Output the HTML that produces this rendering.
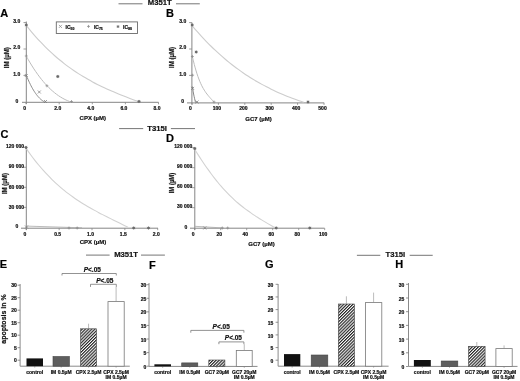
<!DOCTYPE html>
<html><head><meta charset="utf-8"><style>
html,body{margin:0;padding:0;background:#fff;width:520px;height:381px;overflow:hidden}
svg{display:block;font-family:"Liberation Sans", sans-serif;will-change:transform}
text{stroke:#111;stroke-width:0.2px}
</style></head><body>
<svg width="520" height="381" viewBox="0 0 520 381">
<defs><pattern id="hatch" patternUnits="userSpaceOnUse" width="2.2" height="2.2" patternTransform="rotate(45)"><rect width="2.2" height="2.2" fill="#fff"/><rect width="1.15" height="2.2" fill="#222"/></pattern></defs>
<text x="159.80" y="5.20" font-size="7.7" text-anchor="middle" font-weight="bold" fill="#111">M351T</text>
<line x1="118.50" y1="3.80" x2="142.50" y2="3.80" stroke="#666" stroke-width="0.9"/>
<line x1="176.00" y1="3.80" x2="199.80" y2="3.80" stroke="#666" stroke-width="0.9"/>
<text x="157.10" y="130.70" font-size="7.7" text-anchor="middle" font-weight="bold" fill="#111">T315I</text>
<line x1="119.10" y1="128.60" x2="143.20" y2="128.60" stroke="#666" stroke-width="0.9"/>
<line x1="170.90" y1="128.60" x2="195.00" y2="128.60" stroke="#666" stroke-width="0.9"/>
<text x="126.10" y="257.40" font-size="7.7" text-anchor="middle" font-weight="bold" fill="#111">M351T</text>
<line x1="86.00" y1="255.10" x2="109.60" y2="255.10" stroke="#666" stroke-width="0.9"/>
<line x1="141.00" y1="255.10" x2="164.90" y2="255.10" stroke="#666" stroke-width="0.9"/>
<text x="395.30" y="257.40" font-size="7.7" text-anchor="middle" font-weight="bold" fill="#111">T315I</text>
<line x1="356.90" y1="255.30" x2="380.30" y2="255.30" stroke="#666" stroke-width="0.9"/>
<line x1="409.70" y1="255.30" x2="432.70" y2="255.30" stroke="#666" stroke-width="0.9"/>
<text x="0.20" y="16.90" font-size="11" text-anchor="start" font-weight="bold" fill="#000">A</text>
<text x="166.00" y="17.20" font-size="11" text-anchor="start" font-weight="bold" fill="#000">B</text>
<text x="0.50" y="137.60" font-size="11" text-anchor="start" font-weight="bold" fill="#000">C</text>
<text x="166.00" y="142.10" font-size="11" text-anchor="start" font-weight="bold" fill="#000">D</text>
<text x="-0.20" y="268.30" font-size="11" text-anchor="start" font-weight="bold" fill="#000">E</text>
<text x="149.00" y="268.60" font-size="11" text-anchor="start" font-weight="bold" fill="#000">F</text>
<text x="264.90" y="268.30" font-size="11" text-anchor="start" font-weight="bold" fill="#000">G</text>
<text x="395.20" y="268.30" font-size="11" text-anchor="start" font-weight="bold" fill="#000">H</text>
<line x1="26.30" y1="21.50" x2="26.30" y2="104.00" stroke="#858585" stroke-width="1.0"/>
<line x1="23.50" y1="75.45" x2="26.30" y2="75.45" stroke="#858585" stroke-width="0.8"/>
<text x="20.20" y="75.55" font-size="5" text-anchor="end" font-weight="bold" fill="#111">1.0</text>
<line x1="23.50" y1="49.00" x2="26.30" y2="49.00" stroke="#858585" stroke-width="0.8"/>
<text x="20.20" y="49.10" font-size="5" text-anchor="end" font-weight="bold" fill="#111">2.0</text>
<line x1="23.50" y1="22.55" x2="26.30" y2="22.55" stroke="#858585" stroke-width="0.8"/>
<text x="20.20" y="22.65" font-size="5" text-anchor="end" font-weight="bold" fill="#111">3.0</text>
<text x="18.20" y="102.60" font-size="5" text-anchor="end" font-weight="bold" fill="#111">0</text>
<line x1="22.00" y1="102.30" x2="158.60" y2="102.30" stroke="#858585" stroke-width="1.0"/>
<line x1="26.10" y1="102.30" x2="26.10" y2="104.30" stroke="#858585" stroke-width="0.8"/>
<text x="24.60" y="109.70" font-size="5" text-anchor="middle" font-weight="bold" fill="#111">0</text>
<line x1="59.20" y1="102.30" x2="59.20" y2="104.30" stroke="#858585" stroke-width="0.8"/>
<text x="57.70" y="109.70" font-size="5" text-anchor="middle" font-weight="bold" fill="#111">2.0</text>
<line x1="92.30" y1="102.30" x2="92.30" y2="104.30" stroke="#858585" stroke-width="0.8"/>
<text x="90.80" y="109.70" font-size="5" text-anchor="middle" font-weight="bold" fill="#111">4.0</text>
<line x1="125.40" y1="102.30" x2="125.40" y2="104.30" stroke="#858585" stroke-width="0.8"/>
<text x="123.90" y="109.70" font-size="5" text-anchor="middle" font-weight="bold" fill="#111">6.0</text>
<line x1="158.50" y1="102.30" x2="158.50" y2="104.30" stroke="#858585" stroke-width="0.8"/>
<text x="157.00" y="109.70" font-size="5" text-anchor="middle" font-weight="bold" fill="#111">8.0</text>
<text x="92.80" y="119.90" font-size="6" text-anchor="middle" font-weight="bold" fill="#111">CPX (µM)</text>
<text x="8.80" y="57.80" font-size="6.8" text-anchor="middle" font-weight="bold" fill="#111" transform="rotate(-90 8.8 57.8)" textLength="21" lengthAdjust="spacingAndGlyphs">IM (µM)</text>
<path d="M26.30,25.50 C27.09,26.47 29.46,29.43 31.04,31.32 C32.62,33.20 34.19,35.03 35.77,36.81 C37.35,38.59 38.93,40.32 40.51,41.99 C42.09,43.66 43.67,45.28 45.25,46.86 C46.83,48.44 48.41,49.96 49.99,51.44 C51.57,52.92 53.14,54.35 54.72,55.74 C56.30,57.13 57.88,58.47 59.46,59.78 C61.04,61.09 62.62,62.35 64.20,63.58 C65.78,64.81 67.36,65.99 68.94,67.14 C70.52,68.29 72.09,69.41 73.67,70.49 C75.25,71.57 76.83,72.61 78.41,73.62 C79.99,74.63 81.57,75.62 83.15,76.57 C84.73,77.52 86.31,78.44 87.89,79.34 C89.47,80.24 91.04,81.11 92.62,81.95 C94.20,82.80 95.78,83.61 97.36,84.41 C98.94,85.21 100.52,85.98 102.10,86.74 C103.68,87.49 105.26,88.22 106.84,88.94 C108.42,89.66 109.99,90.36 111.57,91.04 C113.15,91.73 114.73,92.39 116.31,93.05 C117.89,93.71 119.47,94.35 121.05,94.98 C122.63,95.61 124.21,96.24 125.79,96.85 C127.37,97.46 128.95,98.06 130.53,98.66 C132.11,99.26 133.68,99.85 135.26,100.44 C136.84,101.03 139.21,101.91 140.00,102.20" fill="none" stroke="#cdcdcd" stroke-width="1.1"/>
<path d="M26.40,56.30 C26.71,56.86 27.65,58.56 28.28,59.66 C28.91,60.76 29.54,61.83 30.17,62.88 C30.80,63.93 31.42,64.95 32.05,65.96 C32.68,66.96 33.30,67.95 33.93,68.91 C34.56,69.87 35.19,70.80 35.82,71.71 C36.45,72.62 37.07,73.52 37.70,74.39 C38.33,75.26 38.95,76.10 39.58,76.93 C40.21,77.76 40.84,78.57 41.47,79.35 C42.10,80.13 42.72,80.89 43.35,81.63 C43.98,82.37 44.60,83.10 45.23,83.80 C45.86,84.50 46.49,85.18 47.12,85.84 C47.75,86.50 48.37,87.14 49.00,87.76 C49.63,88.38 50.25,88.98 50.88,89.56 C51.51,90.14 52.14,90.70 52.77,91.24 C53.40,91.78 54.02,92.31 54.65,92.81 C55.28,93.31 55.90,93.80 56.53,94.27 C57.16,94.74 57.79,95.20 58.42,95.63 C59.05,96.06 59.67,96.47 60.30,96.87 C60.93,97.27 61.55,97.65 62.18,98.01 C62.81,98.37 63.44,98.71 64.07,99.04 C64.70,99.37 65.32,99.69 65.95,99.98 C66.58,100.28 67.20,100.55 67.83,100.81 C68.46,101.07 69.09,101.32 69.72,101.55 C70.35,101.78 71.29,102.09 71.60,102.20" fill="none" stroke="#bcbcbc" stroke-width="1.0"/>
<path d="M26.40,75.50 C26.53,75.82 26.92,76.79 27.18,77.42 C27.44,78.05 27.70,78.66 27.96,79.26 C28.22,79.86 28.48,80.44 28.74,81.02 C29.00,81.59 29.26,82.16 29.52,82.71 C29.78,83.26 30.04,83.79 30.30,84.32 C30.56,84.84 30.81,85.36 31.07,85.86 C31.33,86.36 31.59,86.85 31.85,87.33 C32.11,87.81 32.37,88.27 32.63,88.72 C32.89,89.17 33.15,89.62 33.41,90.05 C33.67,90.48 33.93,90.89 34.19,91.30 C34.45,91.71 34.71,92.10 34.97,92.49 C35.23,92.88 35.49,93.25 35.75,93.61 C36.01,93.97 36.27,94.32 36.53,94.66 C36.79,95.00 37.05,95.33 37.31,95.65 C37.57,95.97 37.83,96.28 38.09,96.58 C38.35,96.88 38.61,97.17 38.87,97.45 C39.13,97.73 39.39,97.99 39.65,98.25 C39.91,98.51 40.16,98.76 40.42,99.00 C40.68,99.24 40.94,99.47 41.20,99.69 C41.46,99.91 41.72,100.12 41.98,100.32 C42.24,100.52 42.50,100.71 42.76,100.89 C43.02,101.07 43.28,101.25 43.54,101.42 C43.80,101.59 44.06,101.73 44.32,101.88 C44.58,102.03 44.97,102.23 45.10,102.30" fill="none" stroke="#808080" stroke-width="0.9"/>
<line x1="37.80" y1="90.50" x2="40.80" y2="93.50" stroke="#777" stroke-width="0.7"/>
<line x1="37.80" y1="93.50" x2="40.80" y2="90.50" stroke="#777" stroke-width="0.7"/>
<line x1="45.40" y1="85.80" x2="48.40" y2="85.80" stroke="#888" stroke-width="0.7"/>
<line x1="46.90" y1="84.30" x2="46.90" y2="87.30" stroke="#888" stroke-width="0.7"/>
<circle cx="57.80" cy="76.50" r="1.20" fill="#6a6a6a"/>
<line x1="56.20" y1="76.50" x2="59.40" y2="76.50" stroke="#6a6a6a" stroke-width="0.6"/>
<line x1="57.80" y1="74.90" x2="57.80" y2="78.10" stroke="#6a6a6a" stroke-width="0.6"/>
<line x1="56.68" y1="75.38" x2="58.92" y2="77.62" stroke="#6a6a6a" stroke-width="0.6"/>
<line x1="56.68" y1="77.62" x2="58.92" y2="75.38" stroke="#6a6a6a" stroke-width="0.6"/>
<line x1="24.80" y1="74.00" x2="27.80" y2="77.00" stroke="#777" stroke-width="0.7"/>
<line x1="24.80" y1="77.00" x2="27.80" y2="74.00" stroke="#777" stroke-width="0.7"/>
<line x1="24.80" y1="56.00" x2="27.80" y2="56.00" stroke="#888" stroke-width="0.7"/>
<line x1="26.30" y1="54.50" x2="26.30" y2="57.50" stroke="#888" stroke-width="0.7"/>
<circle cx="26.30" cy="25.00" r="1.20" fill="#6a6a6a"/>
<line x1="24.70" y1="25.00" x2="27.90" y2="25.00" stroke="#6a6a6a" stroke-width="0.6"/>
<line x1="26.30" y1="23.40" x2="26.30" y2="26.60" stroke="#6a6a6a" stroke-width="0.6"/>
<line x1="25.18" y1="23.88" x2="27.42" y2="26.12" stroke="#6a6a6a" stroke-width="0.6"/>
<line x1="25.18" y1="26.12" x2="27.42" y2="23.88" stroke="#6a6a6a" stroke-width="0.6"/>
<line x1="44.00" y1="100.00" x2="47.00" y2="103.00" stroke="#777" stroke-width="0.7"/>
<line x1="44.00" y1="103.00" x2="47.00" y2="100.00" stroke="#777" stroke-width="0.7"/>
<line x1="70.00" y1="101.50" x2="73.00" y2="101.50" stroke="#888" stroke-width="0.7"/>
<line x1="71.50" y1="100.00" x2="71.50" y2="103.00" stroke="#888" stroke-width="0.7"/>
<circle cx="139.00" cy="101.50" r="1.20" fill="#6a6a6a"/>
<line x1="137.40" y1="101.50" x2="140.60" y2="101.50" stroke="#6a6a6a" stroke-width="0.6"/>
<line x1="139.00" y1="99.90" x2="139.00" y2="103.10" stroke="#6a6a6a" stroke-width="0.6"/>
<line x1="137.88" y1="100.38" x2="140.12" y2="102.62" stroke="#6a6a6a" stroke-width="0.6"/>
<line x1="137.88" y1="102.62" x2="140.12" y2="100.38" stroke="#6a6a6a" stroke-width="0.6"/>
<rect x="56.30" y="21.90" width="81.20" height="11.60" fill="none" stroke="#6a6a6a" stroke-width="0.9"/>
<line x1="58.90" y1="24.90" x2="61.90" y2="27.90" stroke="#888" stroke-width="0.75"/>
<line x1="58.90" y1="27.90" x2="61.90" y2="24.90" stroke="#888" stroke-width="0.75"/>
<text x="65.60" y="28.80" font-size="5" font-weight="bold" fill="#111">IC<tspan font-size="3.5" dy="1.2">50</tspan></text>
<line x1="87.00" y1="26.40" x2="90.00" y2="26.40" stroke="#888" stroke-width="0.75"/>
<line x1="88.50" y1="24.90" x2="88.50" y2="27.90" stroke="#888" stroke-width="0.75"/>
<text x="93.90" y="28.80" font-size="5" font-weight="bold" fill="#111">IC<tspan font-size="3.5" dy="1.2">75</tspan></text>
<circle cx="118.00" cy="26.60" r="1.05" fill="#777"/>
<line x1="116.60" y1="26.60" x2="119.40" y2="26.60" stroke="#777" stroke-width="0.6"/>
<line x1="118.00" y1="25.20" x2="118.00" y2="28.00" stroke="#777" stroke-width="0.6"/>
<line x1="117.02" y1="25.62" x2="118.98" y2="27.58" stroke="#777" stroke-width="0.6"/>
<line x1="117.02" y1="27.58" x2="118.98" y2="25.62" stroke="#777" stroke-width="0.6"/>
<text x="123.00" y="28.80" font-size="5" font-weight="bold" fill="#111">IC<tspan font-size="3.5" dy="1.2">90</tspan></text>
<line x1="191.90" y1="22.50" x2="191.90" y2="104.50" stroke="#858585" stroke-width="1.0"/>
<line x1="189.10" y1="75.40" x2="191.90" y2="75.40" stroke="#858585" stroke-width="0.8"/>
<text x="186.30" y="75.50" font-size="5" text-anchor="end" font-weight="bold" fill="#111">1.0</text>
<line x1="189.10" y1="49.00" x2="191.90" y2="49.00" stroke="#858585" stroke-width="0.8"/>
<text x="186.30" y="49.10" font-size="5" text-anchor="end" font-weight="bold" fill="#111">2.0</text>
<line x1="189.10" y1="22.60" x2="191.90" y2="22.60" stroke="#858585" stroke-width="0.8"/>
<text x="186.30" y="22.70" font-size="5" text-anchor="end" font-weight="bold" fill="#111">3.0</text>
<text x="184.00" y="102.90" font-size="5" text-anchor="end" font-weight="bold" fill="#111">0</text>
<line x1="187.00" y1="102.90" x2="324.20" y2="102.90" stroke="#858585" stroke-width="1.0"/>
<line x1="192.00" y1="102.90" x2="192.00" y2="104.90" stroke="#858585" stroke-width="0.8"/>
<text x="190.50" y="110.20" font-size="5" text-anchor="middle" font-weight="bold" fill="#111">0</text>
<line x1="218.40" y1="102.90" x2="218.40" y2="104.90" stroke="#858585" stroke-width="0.8"/>
<text x="216.90" y="110.20" font-size="5" text-anchor="middle" font-weight="bold" fill="#111">100</text>
<line x1="244.80" y1="102.90" x2="244.80" y2="104.90" stroke="#858585" stroke-width="0.8"/>
<text x="243.30" y="110.20" font-size="5" text-anchor="middle" font-weight="bold" fill="#111">200</text>
<line x1="271.20" y1="102.90" x2="271.20" y2="104.90" stroke="#858585" stroke-width="0.8"/>
<text x="269.70" y="110.20" font-size="5" text-anchor="middle" font-weight="bold" fill="#111">300</text>
<line x1="297.60" y1="102.90" x2="297.60" y2="104.90" stroke="#858585" stroke-width="0.8"/>
<text x="296.10" y="110.20" font-size="5" text-anchor="middle" font-weight="bold" fill="#111">400</text>
<line x1="324.00" y1="102.90" x2="324.00" y2="104.90" stroke="#858585" stroke-width="0.8"/>
<text x="322.50" y="110.20" font-size="5" text-anchor="middle" font-weight="bold" fill="#111">500</text>
<text x="258.60" y="120.80" font-size="6" text-anchor="middle" font-weight="bold" fill="#111">GC7 (µM)</text>
<text x="173.80" y="57.40" font-size="6.8" text-anchor="middle" font-weight="bold" fill="#111" transform="rotate(-90 173.8 57.4)" textLength="21" lengthAdjust="spacingAndGlyphs">IM (µM)</text>
<path d="M192.20,25.80 C192.97,26.70 195.30,29.45 196.85,31.21 C198.40,32.97 199.94,34.69 201.49,36.37 C203.04,38.05 204.59,39.70 206.14,41.30 C207.69,42.90 209.23,44.47 210.78,45.99 C212.33,47.52 213.88,49.00 215.43,50.45 C216.98,51.90 218.52,53.32 220.07,54.70 C221.62,56.08 223.17,57.43 224.72,58.74 C226.27,60.05 227.82,61.33 229.37,62.58 C230.92,63.83 232.46,65.04 234.01,66.22 C235.56,67.40 237.11,68.55 238.66,69.67 C240.21,70.79 241.75,71.88 243.30,72.94 C244.85,74.00 246.40,75.04 247.95,76.04 C249.50,77.05 251.05,78.02 252.60,78.97 C254.15,79.92 255.69,80.84 257.24,81.74 C258.79,82.64 260.34,83.51 261.89,84.36 C263.44,85.21 264.98,86.04 266.53,86.84 C268.08,87.64 269.63,88.41 271.18,89.17 C272.73,89.93 274.27,90.66 275.82,91.38 C277.37,92.09 278.92,92.78 280.47,93.46 C282.02,94.13 283.57,94.79 285.12,95.43 C286.67,96.07 288.21,96.69 289.76,97.29 C291.31,97.89 292.86,98.48 294.41,99.05 C295.96,99.62 297.50,100.17 299.05,100.71 C300.60,101.25 302.93,102.03 303.70,102.29" fill="none" stroke="#cdcdcd" stroke-width="1.1"/>
<path d="M192.50,57.00 C192.65,57.65 193.10,59.63 193.40,60.88 C193.70,62.13 194.01,63.34 194.31,64.50 C194.61,65.66 194.91,66.77 195.21,67.85 C195.51,68.93 195.82,69.96 196.12,70.96 C196.42,71.96 196.72,72.92 197.02,73.84 C197.32,74.76 197.63,75.65 197.93,76.50 C198.23,77.35 198.53,78.17 198.83,78.96 C199.13,79.75 199.43,80.50 199.73,81.22 C200.03,81.94 200.34,82.64 200.64,83.31 C200.94,83.98 201.24,84.62 201.54,85.23 C201.84,85.84 202.15,86.43 202.45,87.00 C202.75,87.57 203.05,88.11 203.35,88.63 C203.65,89.15 203.95,89.66 204.25,90.14 C204.55,90.62 204.86,91.08 205.16,91.53 C205.46,91.98 205.76,92.41 206.06,92.83 C206.36,93.25 206.67,93.66 206.97,94.05 C207.27,94.44 207.57,94.82 207.87,95.19 C208.17,95.56 208.47,95.92 208.77,96.27 C209.07,96.62 209.38,96.97 209.68,97.31 C209.98,97.65 210.28,97.99 210.58,98.32 C210.88,98.65 211.19,98.98 211.49,99.31 C211.79,99.64 212.09,99.96 212.39,100.29 C212.69,100.62 213.00,100.96 213.30,101.29 C213.60,101.62 214.05,102.13 214.20,102.30" fill="none" stroke="#bcbcbc" stroke-width="1.0"/>
<path d="M192.40,86.50 C192.60,87.75 193.08,91.33 193.60,94.00 C194.12,96.67 195.18,101.08 195.50,102.50" fill="none" stroke="#7a7a7a" stroke-width="0.9"/>
<circle cx="196.20" cy="52.00" r="1.20" fill="#6a6a6a"/>
<line x1="194.60" y1="52.00" x2="197.80" y2="52.00" stroke="#6a6a6a" stroke-width="0.6"/>
<line x1="196.20" y1="50.40" x2="196.20" y2="53.60" stroke="#6a6a6a" stroke-width="0.6"/>
<line x1="195.08" y1="50.88" x2="197.32" y2="53.12" stroke="#6a6a6a" stroke-width="0.6"/>
<line x1="195.08" y1="53.12" x2="197.32" y2="50.88" stroke="#6a6a6a" stroke-width="0.6"/>
<line x1="190.90" y1="56.50" x2="193.90" y2="56.50" stroke="#888" stroke-width="0.7"/>
<line x1="192.40" y1="55.00" x2="192.40" y2="58.00" stroke="#888" stroke-width="0.7"/>
<line x1="191.10" y1="75.20" x2="194.10" y2="75.20" stroke="#888" stroke-width="0.7"/>
<line x1="192.60" y1="73.70" x2="192.60" y2="76.70" stroke="#888" stroke-width="0.7"/>
<line x1="191.10" y1="86.90" x2="194.10" y2="89.90" stroke="#777" stroke-width="0.7"/>
<line x1="191.10" y1="89.90" x2="194.10" y2="86.90" stroke="#777" stroke-width="0.7"/>
<circle cx="192.20" cy="25.00" r="1.20" fill="#6a6a6a"/>
<line x1="190.60" y1="25.00" x2="193.80" y2="25.00" stroke="#6a6a6a" stroke-width="0.6"/>
<line x1="192.20" y1="23.40" x2="192.20" y2="26.60" stroke="#6a6a6a" stroke-width="0.6"/>
<line x1="191.08" y1="23.88" x2="193.32" y2="26.12" stroke="#6a6a6a" stroke-width="0.6"/>
<line x1="191.08" y1="26.12" x2="193.32" y2="23.88" stroke="#6a6a6a" stroke-width="0.6"/>
<line x1="195.50" y1="100.50" x2="198.50" y2="103.50" stroke="#777" stroke-width="0.7"/>
<line x1="195.50" y1="103.50" x2="198.50" y2="100.50" stroke="#777" stroke-width="0.7"/>
<line x1="212.50" y1="102.00" x2="215.50" y2="102.00" stroke="#888" stroke-width="0.7"/>
<line x1="214.00" y1="100.50" x2="214.00" y2="103.50" stroke="#888" stroke-width="0.7"/>
<circle cx="308.00" cy="102.00" r="1.20" fill="#6a6a6a"/>
<line x1="306.40" y1="102.00" x2="309.60" y2="102.00" stroke="#6a6a6a" stroke-width="0.6"/>
<line x1="308.00" y1="100.40" x2="308.00" y2="103.60" stroke="#6a6a6a" stroke-width="0.6"/>
<line x1="306.88" y1="100.88" x2="309.12" y2="103.12" stroke="#6a6a6a" stroke-width="0.6"/>
<line x1="306.88" y1="103.12" x2="309.12" y2="100.88" stroke="#6a6a6a" stroke-width="0.6"/>
<line x1="26.30" y1="146.90" x2="26.30" y2="230.00" stroke="#858585" stroke-width="1.0"/>
<line x1="23.50" y1="207.35" x2="26.30" y2="207.35" stroke="#858585" stroke-width="0.8"/>
<text x="24.00" y="208.55" font-size="5" text-anchor="end" font-weight="bold" fill="#111">30 000</text>
<line x1="23.50" y1="187.30" x2="26.30" y2="187.30" stroke="#858585" stroke-width="0.8"/>
<text x="24.00" y="188.50" font-size="5" text-anchor="end" font-weight="bold" fill="#111">60 000</text>
<line x1="23.50" y1="167.25" x2="26.30" y2="167.25" stroke="#858585" stroke-width="0.8"/>
<text x="24.00" y="168.45" font-size="5" text-anchor="end" font-weight="bold" fill="#111">90 000</text>
<line x1="23.50" y1="147.20" x2="26.30" y2="147.20" stroke="#858585" stroke-width="0.8"/>
<text x="24.00" y="148.40" font-size="5" text-anchor="end" font-weight="bold" fill="#111">120 000</text>
<text x="18.40" y="228.20" font-size="5" text-anchor="end" font-weight="bold" fill="#111">0</text>
<line x1="21.00" y1="228.20" x2="158.00" y2="228.20" stroke="#858585" stroke-width="1.0"/>
<line x1="26.30" y1="228.20" x2="26.30" y2="230.20" stroke="#858585" stroke-width="0.8"/>
<text x="24.80" y="235.60" font-size="5" text-anchor="middle" font-weight="bold" fill="#111">0</text>
<line x1="59.15" y1="228.20" x2="59.15" y2="230.20" stroke="#858585" stroke-width="0.8"/>
<text x="57.65" y="235.60" font-size="5" text-anchor="middle" font-weight="bold" fill="#111">0.5</text>
<line x1="92.00" y1="228.20" x2="92.00" y2="230.20" stroke="#858585" stroke-width="0.8"/>
<text x="90.50" y="235.60" font-size="5" text-anchor="middle" font-weight="bold" fill="#111">1.0</text>
<line x1="124.85" y1="228.20" x2="124.85" y2="230.20" stroke="#858585" stroke-width="0.8"/>
<text x="123.35" y="235.60" font-size="5" text-anchor="middle" font-weight="bold" fill="#111">1.5</text>
<line x1="157.70" y1="228.20" x2="157.70" y2="230.20" stroke="#858585" stroke-width="0.8"/>
<text x="156.20" y="235.60" font-size="5" text-anchor="middle" font-weight="bold" fill="#111">2.0</text>
<text x="93.00" y="244.40" font-size="6" text-anchor="middle" font-weight="bold" fill="#111">CPX (µM)</text>
<text x="7.00" y="183.60" font-size="6.6" text-anchor="middle" font-weight="bold" fill="#111" transform="rotate(-90 7.0 183.6)" textLength="21" lengthAdjust="spacingAndGlyphs">IM (µM)</text>
<path d="M26.40,148.79 C27.10,149.78 29.22,152.80 30.63,154.72 C32.04,156.64 33.46,158.49 34.87,160.29 C36.28,162.09 37.69,163.82 39.10,165.51 C40.51,167.19 41.92,168.82 43.33,170.40 C44.74,171.98 46.16,173.51 47.57,174.99 C48.98,176.47 50.39,177.90 51.80,179.28 C53.21,180.66 54.62,182.00 56.03,183.30 C57.44,184.60 58.86,185.85 60.27,187.06 C61.68,188.27 63.09,189.44 64.50,190.58 C65.91,191.72 67.32,192.82 68.73,193.89 C70.14,194.96 71.56,195.99 72.97,196.99 C74.38,198.00 75.79,198.97 77.20,199.92 C78.61,200.87 80.02,201.78 81.43,202.67 C82.84,203.56 84.26,204.43 85.67,205.28 C87.08,206.13 88.49,206.95 89.90,207.76 C91.31,208.57 92.72,209.35 94.13,210.13 C95.54,210.91 96.96,211.66 98.37,212.41 C99.78,213.16 101.19,213.90 102.60,214.62 C104.01,215.34 105.42,216.05 106.83,216.76 C108.24,217.47 109.66,218.17 111.07,218.87 C112.48,219.57 113.89,220.26 115.30,220.96 C116.71,221.66 118.12,222.35 119.53,223.05 C120.94,223.75 122.36,224.45 123.77,225.16 C125.18,225.87 127.30,226.94 128.00,227.29" fill="none" stroke="#d2d2d2" stroke-width="1.1"/>
<line x1="26.30" y1="226.10" x2="82.00" y2="227.80" stroke="#a8a8a8" stroke-width="0.8"/>
<circle cx="26.10" cy="147.50" r="1.20" fill="#6a6a6a"/>
<line x1="24.50" y1="147.50" x2="27.70" y2="147.50" stroke="#6a6a6a" stroke-width="0.6"/>
<line x1="26.10" y1="145.90" x2="26.10" y2="149.10" stroke="#6a6a6a" stroke-width="0.6"/>
<line x1="24.98" y1="146.38" x2="27.22" y2="148.62" stroke="#6a6a6a" stroke-width="0.6"/>
<line x1="24.98" y1="148.62" x2="27.22" y2="146.38" stroke="#6a6a6a" stroke-width="0.6"/>
<circle cx="133.70" cy="228.00" r="1.20" fill="#6a6a6a"/>
<line x1="132.10" y1="228.00" x2="135.30" y2="228.00" stroke="#6a6a6a" stroke-width="0.6"/>
<line x1="133.70" y1="226.40" x2="133.70" y2="229.60" stroke="#6a6a6a" stroke-width="0.6"/>
<line x1="132.58" y1="226.88" x2="134.82" y2="229.12" stroke="#6a6a6a" stroke-width="0.6"/>
<line x1="132.58" y1="229.12" x2="134.82" y2="226.88" stroke="#6a6a6a" stroke-width="0.6"/>
<circle cx="148.50" cy="228.00" r="1.20" fill="#6a6a6a"/>
<line x1="146.90" y1="228.00" x2="150.10" y2="228.00" stroke="#6a6a6a" stroke-width="0.6"/>
<line x1="148.50" y1="226.40" x2="148.50" y2="229.60" stroke="#6a6a6a" stroke-width="0.6"/>
<line x1="147.38" y1="226.88" x2="149.62" y2="229.12" stroke="#6a6a6a" stroke-width="0.6"/>
<line x1="147.38" y1="229.12" x2="149.62" y2="226.88" stroke="#6a6a6a" stroke-width="0.6"/>
<line x1="67.50" y1="228.00" x2="70.50" y2="228.00" stroke="#888" stroke-width="0.7"/>
<line x1="69.00" y1="226.50" x2="69.00" y2="229.50" stroke="#888" stroke-width="0.7"/>
<line x1="75.70" y1="228.00" x2="78.70" y2="228.00" stroke="#888" stroke-width="0.7"/>
<line x1="77.20" y1="226.50" x2="77.20" y2="229.50" stroke="#888" stroke-width="0.7"/>
<line x1="25.00" y1="225.50" x2="28.00" y2="228.50" stroke="#777" stroke-width="0.7"/>
<line x1="25.00" y1="228.50" x2="28.00" y2="225.50" stroke="#777" stroke-width="0.7"/>
<line x1="194.80" y1="148.00" x2="194.80" y2="230.00" stroke="#858585" stroke-width="1.0"/>
<line x1="192.00" y1="207.70" x2="194.80" y2="207.70" stroke="#858585" stroke-width="0.8"/>
<text x="192.30" y="208.00" font-size="5" text-anchor="end" font-weight="bold" fill="#111">30 000</text>
<line x1="192.00" y1="187.70" x2="194.80" y2="187.70" stroke="#858585" stroke-width="0.8"/>
<text x="192.30" y="188.00" font-size="5" text-anchor="end" font-weight="bold" fill="#111">60 000</text>
<line x1="192.00" y1="167.70" x2="194.80" y2="167.70" stroke="#858585" stroke-width="0.8"/>
<text x="192.30" y="168.00" font-size="5" text-anchor="end" font-weight="bold" fill="#111">90 000</text>
<line x1="192.00" y1="147.70" x2="194.80" y2="147.70" stroke="#858585" stroke-width="0.8"/>
<text x="192.30" y="148.00" font-size="5" text-anchor="end" font-weight="bold" fill="#111">120 000</text>
<text x="187.30" y="228.80" font-size="5" text-anchor="end" font-weight="bold" fill="#111">0</text>
<line x1="190.00" y1="228.20" x2="324.60" y2="228.20" stroke="#858585" stroke-width="1.0"/>
<line x1="194.70" y1="228.20" x2="194.70" y2="230.20" stroke="#858585" stroke-width="0.8"/>
<text x="193.20" y="235.80" font-size="5" text-anchor="middle" font-weight="bold" fill="#111">0</text>
<line x1="220.70" y1="228.20" x2="220.70" y2="230.20" stroke="#858585" stroke-width="0.8"/>
<text x="219.20" y="235.80" font-size="5" text-anchor="middle" font-weight="bold" fill="#111">20</text>
<line x1="246.70" y1="228.20" x2="246.70" y2="230.20" stroke="#858585" stroke-width="0.8"/>
<text x="245.20" y="235.80" font-size="5" text-anchor="middle" font-weight="bold" fill="#111">40</text>
<line x1="272.70" y1="228.20" x2="272.70" y2="230.20" stroke="#858585" stroke-width="0.8"/>
<text x="271.20" y="235.80" font-size="5" text-anchor="middle" font-weight="bold" fill="#111">60</text>
<line x1="298.70" y1="228.20" x2="298.70" y2="230.20" stroke="#858585" stroke-width="0.8"/>
<text x="297.20" y="235.80" font-size="5" text-anchor="middle" font-weight="bold" fill="#111">80</text>
<line x1="324.70" y1="228.20" x2="324.70" y2="230.20" stroke="#858585" stroke-width="0.8"/>
<text x="323.20" y="235.80" font-size="5" text-anchor="middle" font-weight="bold" fill="#111">100</text>
<text x="261.50" y="245.50" font-size="6" text-anchor="middle" font-weight="bold" fill="#111">GC7 (µM)</text>
<text x="174.10" y="183.00" font-size="6.6" text-anchor="middle" font-weight="bold" fill="#111" transform="rotate(-90 174.1 183)" textLength="20.6" lengthAdjust="spacingAndGlyphs">IM (µM)</text>
<path d="M194.70,149.27 C195.25,150.16 196.91,152.85 198.02,154.59 C199.13,156.33 200.24,158.05 201.35,159.73 C202.46,161.41 203.56,163.07 204.67,164.69 C205.78,166.31 206.89,167.89 208.00,169.44 C209.11,170.99 210.21,172.51 211.32,174.00 C212.43,175.49 213.54,176.93 214.65,178.35 C215.76,179.77 216.86,181.15 217.97,182.50 C219.08,183.85 220.19,185.16 221.30,186.44 C222.41,187.72 223.51,188.95 224.62,190.15 C225.73,191.35 226.84,192.52 227.95,193.65 C229.06,194.78 230.17,195.88 231.28,196.94 C232.39,198.00 233.49,199.04 234.60,200.04 C235.71,201.04 236.82,202.01 237.93,202.96 C239.04,203.91 240.14,204.83 241.25,205.72 C242.36,206.61 243.46,207.47 244.57,208.32 C245.68,209.17 246.79,210.00 247.90,210.80 C249.01,211.61 250.11,212.38 251.22,213.15 C252.33,213.92 253.44,214.67 254.55,215.40 C255.66,216.13 256.77,216.85 257.88,217.55 C258.99,218.25 260.09,218.95 261.20,219.63 C262.31,220.31 263.41,220.98 264.52,221.65 C265.63,222.32 266.74,222.98 267.85,223.63 C268.96,224.28 270.07,224.93 271.18,225.57 C272.29,226.21 273.95,227.17 274.50,227.49" fill="none" stroke="#d2d2d2" stroke-width="1.1"/>
<line x1="194.80" y1="226.30" x2="222.00" y2="227.90" stroke="#a8a8a8" stroke-width="0.8"/>
<circle cx="194.80" cy="148.50" r="1.20" fill="#6a6a6a"/>
<line x1="193.20" y1="148.50" x2="196.40" y2="148.50" stroke="#6a6a6a" stroke-width="0.6"/>
<line x1="194.80" y1="146.90" x2="194.80" y2="150.10" stroke="#6a6a6a" stroke-width="0.6"/>
<line x1="193.68" y1="147.38" x2="195.92" y2="149.62" stroke="#6a6a6a" stroke-width="0.6"/>
<line x1="193.68" y1="149.62" x2="195.92" y2="147.38" stroke="#6a6a6a" stroke-width="0.6"/>
<line x1="203.30" y1="226.50" x2="206.30" y2="229.50" stroke="#777" stroke-width="0.7"/>
<line x1="203.30" y1="229.50" x2="206.30" y2="226.50" stroke="#777" stroke-width="0.7"/>
<line x1="220.80" y1="228.00" x2="223.80" y2="228.00" stroke="#888" stroke-width="0.7"/>
<line x1="222.30" y1="226.50" x2="222.30" y2="229.50" stroke="#888" stroke-width="0.7"/>
<line x1="226.20" y1="228.00" x2="229.20" y2="228.00" stroke="#888" stroke-width="0.7"/>
<line x1="227.70" y1="226.50" x2="227.70" y2="229.50" stroke="#888" stroke-width="0.7"/>
<circle cx="276.20" cy="228.00" r="1.20" fill="#6a6a6a"/>
<line x1="274.60" y1="228.00" x2="277.80" y2="228.00" stroke="#6a6a6a" stroke-width="0.6"/>
<line x1="276.20" y1="226.40" x2="276.20" y2="229.60" stroke="#6a6a6a" stroke-width="0.6"/>
<line x1="275.08" y1="226.88" x2="277.32" y2="229.12" stroke="#6a6a6a" stroke-width="0.6"/>
<line x1="275.08" y1="229.12" x2="277.32" y2="226.88" stroke="#6a6a6a" stroke-width="0.6"/>
<circle cx="309.80" cy="228.00" r="1.20" fill="#6a6a6a"/>
<line x1="308.20" y1="228.00" x2="311.40" y2="228.00" stroke="#6a6a6a" stroke-width="0.6"/>
<line x1="309.80" y1="226.40" x2="309.80" y2="229.60" stroke="#6a6a6a" stroke-width="0.6"/>
<line x1="308.68" y1="226.88" x2="310.92" y2="229.12" stroke="#6a6a6a" stroke-width="0.6"/>
<line x1="308.68" y1="229.12" x2="310.92" y2="226.88" stroke="#6a6a6a" stroke-width="0.6"/>
<line x1="20.10" y1="284.00" x2="20.10" y2="366.20" stroke="#8a8a8a" stroke-width="1.0"/>
<line x1="17.60" y1="360.20" x2="20.10" y2="360.20" stroke="#777" stroke-width="0.8"/>
<text x="16.90" y="362.00" font-size="5" text-anchor="end" font-weight="bold" fill="#111">0</text>
<line x1="17.60" y1="347.70" x2="20.10" y2="347.70" stroke="#777" stroke-width="0.8"/>
<text x="16.90" y="349.50" font-size="5" text-anchor="end" font-weight="bold" fill="#111">5</text>
<line x1="17.60" y1="335.20" x2="20.10" y2="335.20" stroke="#777" stroke-width="0.8"/>
<text x="16.90" y="337.00" font-size="5" text-anchor="end" font-weight="bold" fill="#111">10</text>
<line x1="17.60" y1="322.70" x2="20.10" y2="322.70" stroke="#777" stroke-width="0.8"/>
<text x="16.90" y="324.50" font-size="5" text-anchor="end" font-weight="bold" fill="#111">15</text>
<line x1="17.60" y1="310.20" x2="20.10" y2="310.20" stroke="#777" stroke-width="0.8"/>
<text x="16.90" y="312.00" font-size="5" text-anchor="end" font-weight="bold" fill="#111">20</text>
<line x1="17.60" y1="297.70" x2="20.10" y2="297.70" stroke="#777" stroke-width="0.8"/>
<text x="16.90" y="299.50" font-size="5" text-anchor="end" font-weight="bold" fill="#111">25</text>
<line x1="17.60" y1="285.20" x2="20.10" y2="285.20" stroke="#777" stroke-width="0.8"/>
<text x="16.90" y="287.00" font-size="5" text-anchor="end" font-weight="bold" fill="#111">30</text>
<line x1="20.10" y1="366.20" x2="129.80" y2="366.20" stroke="#8a8a8a" stroke-width="1.0"/>
<line x1="34.75" y1="366.20" x2="34.75" y2="367.50" stroke="#777" stroke-width="0.7"/>
<rect x="26.50" y="358.40" width="16.50" height="7.80" fill="#111" stroke="none" stroke-width="1"/>
<text x="34.75" y="373.60" font-size="5" text-anchor="middle" font-weight="bold" fill="#111">control</text>
<line x1="61.20" y1="366.20" x2="61.20" y2="367.50" stroke="#777" stroke-width="0.7"/>
<rect x="53.00" y="356.50" width="16.40" height="9.70" fill="#5e5e5e" stroke="#444" stroke-width="0.6"/>
<text x="61.20" y="373.60" font-size="5" text-anchor="middle" font-weight="bold" fill="#111">IM 0.5µM</text>
<line x1="88.55" y1="366.20" x2="88.55" y2="367.50" stroke="#777" stroke-width="0.7"/>
<line x1="88.55" y1="323.70" x2="88.55" y2="328.50" stroke="#aaa" stroke-width="0.8"/>
<rect x="80.50" y="328.80" width="16.10" height="37.40" fill="url(#hatch)" stroke="#444" stroke-width="0.6"/>
<text x="88.55" y="373.60" font-size="5" text-anchor="middle" font-weight="bold" fill="#111">CPX 2.5µM</text>
<line x1="116.10" y1="366.20" x2="116.10" y2="367.50" stroke="#777" stroke-width="0.7"/>
<line x1="116.10" y1="286.90" x2="116.10" y2="301.20" stroke="#aaa" stroke-width="0.8"/>
<rect x="108.00" y="301.60" width="16.20" height="64.60" fill="#fff" stroke="#777" stroke-width="0.8"/>
<text x="116.10" y="373.60" font-size="5" text-anchor="middle" font-weight="bold" fill="#111">CPX 2.5µM</text>
<text x="116.10" y="378.80" font-size="5" text-anchor="middle" font-weight="bold" fill="#111">IM 0.5µM</text>
<polyline points="62.00,275.50 62.00,273.50 116.30,273.50 116.30,275.50" fill="none" stroke="#777" stroke-width="0.8" stroke-linejoin="round"/>
<text x="92.30" y="271.50" font-size="6.5" text-anchor="middle" font-weight="bold" fill="#111"><tspan font-style="italic">P</tspan>&lt;.05</text>
<polyline points="90.50,286.90 90.50,284.30 116.30,284.30 116.30,286.90" fill="none" stroke="#777" stroke-width="0.8" stroke-linejoin="round"/>
<text x="104.80" y="282.80" font-size="6.5" text-anchor="middle" font-weight="bold" fill="#111"><tspan font-style="italic">P</tspan>&lt;.05</text>
<text x="5.60" y="319.00" font-size="7" text-anchor="middle" font-weight="bold" fill="#111" transform="rotate(-90 5.6 319)">apoptosis in %</text>
<line x1="149.00" y1="283.00" x2="149.00" y2="366.40" stroke="#8a8a8a" stroke-width="1.0"/>
<line x1="146.50" y1="366.20" x2="149.00" y2="366.20" stroke="#777" stroke-width="0.8"/>
<text x="146.20" y="368.80" font-size="5" text-anchor="end" font-weight="bold" fill="#111">0</text>
<line x1="146.50" y1="352.62" x2="149.00" y2="352.62" stroke="#777" stroke-width="0.8"/>
<text x="146.20" y="355.22" font-size="5" text-anchor="end" font-weight="bold" fill="#111">5</text>
<line x1="146.50" y1="339.03" x2="149.00" y2="339.03" stroke="#777" stroke-width="0.8"/>
<text x="146.20" y="341.63" font-size="5" text-anchor="end" font-weight="bold" fill="#111">10</text>
<line x1="146.50" y1="325.44" x2="149.00" y2="325.44" stroke="#777" stroke-width="0.8"/>
<text x="146.20" y="328.05" font-size="5" text-anchor="end" font-weight="bold" fill="#111">15</text>
<line x1="146.50" y1="311.86" x2="149.00" y2="311.86" stroke="#777" stroke-width="0.8"/>
<text x="146.20" y="314.46" font-size="5" text-anchor="end" font-weight="bold" fill="#111">20</text>
<line x1="146.50" y1="298.27" x2="149.00" y2="298.27" stroke="#777" stroke-width="0.8"/>
<text x="146.20" y="300.88" font-size="5" text-anchor="end" font-weight="bold" fill="#111">25</text>
<line x1="146.50" y1="284.69" x2="149.00" y2="284.69" stroke="#777" stroke-width="0.8"/>
<text x="146.20" y="287.29" font-size="5" text-anchor="end" font-weight="bold" fill="#111">30</text>
<line x1="149.00" y1="366.40" x2="257.50" y2="366.40" stroke="#8a8a8a" stroke-width="1.0"/>
<line x1="162.70" y1="366.40" x2="162.70" y2="367.70" stroke="#777" stroke-width="0.7"/>
<rect x="154.40" y="364.30" width="16.60" height="2.10" fill="#111" stroke="none" stroke-width="1"/>
<text x="162.70" y="373.60" font-size="5" text-anchor="middle" font-weight="bold" fill="#111">control</text>
<line x1="189.75" y1="366.40" x2="189.75" y2="367.70" stroke="#777" stroke-width="0.7"/>
<rect x="181.70" y="362.90" width="16.10" height="3.50" fill="#5e5e5e" stroke="#444" stroke-width="0.6"/>
<text x="189.75" y="373.60" font-size="5" text-anchor="middle" font-weight="bold" fill="#111">IM 0.5µM</text>
<line x1="216.85" y1="366.40" x2="216.85" y2="367.70" stroke="#777" stroke-width="0.7"/>
<rect x="208.80" y="360.00" width="16.10" height="6.40" fill="url(#hatch)" stroke="#444" stroke-width="0.6"/>
<text x="216.85" y="373.60" font-size="5" text-anchor="middle" font-weight="bold" fill="#111">GC7 20µM</text>
<line x1="244.25" y1="366.40" x2="244.25" y2="367.70" stroke="#777" stroke-width="0.7"/>
<line x1="244.25" y1="344.20" x2="244.25" y2="350.10" stroke="#aaa" stroke-width="0.8"/>
<rect x="236.30" y="350.50" width="15.90" height="15.90" fill="#fff" stroke="#777" stroke-width="0.8"/>
<text x="244.25" y="373.60" font-size="5" text-anchor="middle" font-weight="bold" fill="#111">GC7 20µM</text>
<text x="244.25" y="378.80" font-size="5" text-anchor="middle" font-weight="bold" fill="#111">IM 0.5µM</text>
<polyline points="190.80,332.70 190.80,330.40 243.90,330.40 243.90,332.70" fill="none" stroke="#777" stroke-width="0.8" stroke-linejoin="round"/>
<text x="221.20" y="329.20" font-size="6.5" text-anchor="middle" font-weight="bold" fill="#111"><tspan font-style="italic">P</tspan>&lt;.05</text>
<polyline points="218.90,344.20 218.90,341.90 243.90,341.90 243.90,344.20" fill="none" stroke="#777" stroke-width="0.8" stroke-linejoin="round"/>
<text x="233.40" y="339.50" font-size="6.5" text-anchor="middle" font-weight="bold" fill="#111"><tspan font-style="italic">P</tspan>&lt;.05</text>
<line x1="278.10" y1="284.00" x2="278.10" y2="366.20" stroke="#8a8a8a" stroke-width="1.0"/>
<line x1="275.60" y1="360.20" x2="278.10" y2="360.20" stroke="#777" stroke-width="0.8"/>
<text x="273.40" y="362.80" font-size="5" text-anchor="end" font-weight="bold" fill="#111">0</text>
<line x1="275.60" y1="347.55" x2="278.10" y2="347.55" stroke="#777" stroke-width="0.8"/>
<text x="273.40" y="350.15" font-size="5" text-anchor="end" font-weight="bold" fill="#111">5</text>
<line x1="275.60" y1="334.90" x2="278.10" y2="334.90" stroke="#777" stroke-width="0.8"/>
<text x="273.40" y="337.50" font-size="5" text-anchor="end" font-weight="bold" fill="#111">10</text>
<line x1="275.60" y1="322.25" x2="278.10" y2="322.25" stroke="#777" stroke-width="0.8"/>
<text x="273.40" y="324.85" font-size="5" text-anchor="end" font-weight="bold" fill="#111">15</text>
<line x1="275.60" y1="309.60" x2="278.10" y2="309.60" stroke="#777" stroke-width="0.8"/>
<text x="273.40" y="312.20" font-size="5" text-anchor="end" font-weight="bold" fill="#111">20</text>
<line x1="275.60" y1="296.95" x2="278.10" y2="296.95" stroke="#777" stroke-width="0.8"/>
<text x="273.40" y="299.55" font-size="5" text-anchor="end" font-weight="bold" fill="#111">25</text>
<line x1="275.60" y1="284.30" x2="278.10" y2="284.30" stroke="#777" stroke-width="0.8"/>
<text x="273.40" y="286.90" font-size="5" text-anchor="end" font-weight="bold" fill="#111">30</text>
<line x1="278.10" y1="366.20" x2="388.60" y2="366.20" stroke="#8a8a8a" stroke-width="1.0"/>
<line x1="292.15" y1="366.20" x2="292.15" y2="367.50" stroke="#777" stroke-width="0.7"/>
<rect x="284.00" y="354.10" width="16.30" height="12.10" fill="#111" stroke="none" stroke-width="1"/>
<text x="292.15" y="373.60" font-size="5" text-anchor="middle" font-weight="bold" fill="#111">control</text>
<line x1="319.50" y1="366.20" x2="319.50" y2="367.50" stroke="#777" stroke-width="0.7"/>
<rect x="311.20" y="355.00" width="16.60" height="11.20" fill="#5e5e5e" stroke="#444" stroke-width="0.6"/>
<text x="319.50" y="373.60" font-size="5" text-anchor="middle" font-weight="bold" fill="#111">IM 0.5µM</text>
<line x1="346.40" y1="366.20" x2="346.40" y2="367.50" stroke="#777" stroke-width="0.7"/>
<line x1="346.40" y1="296.30" x2="346.40" y2="303.70" stroke="#aaa" stroke-width="0.8"/>
<rect x="338.30" y="304.00" width="16.20" height="62.20" fill="url(#hatch)" stroke="#444" stroke-width="0.6"/>
<text x="346.40" y="373.60" font-size="5" text-anchor="middle" font-weight="bold" fill="#111">CPX 2.5µM</text>
<line x1="373.60" y1="366.20" x2="373.60" y2="367.50" stroke="#777" stroke-width="0.7"/>
<line x1="373.60" y1="292.60" x2="373.60" y2="302.20" stroke="#aaa" stroke-width="0.8"/>
<rect x="365.40" y="302.60" width="16.40" height="63.60" fill="#fff" stroke="#777" stroke-width="0.8"/>
<text x="373.60" y="373.60" font-size="5" text-anchor="middle" font-weight="bold" fill="#111">CPX 2.5µM</text>
<text x="373.60" y="378.80" font-size="5" text-anchor="middle" font-weight="bold" fill="#111">IM 0.5µM</text>
<line x1="408.50" y1="283.00" x2="408.50" y2="366.40" stroke="#8a8a8a" stroke-width="1.0"/>
<line x1="406.00" y1="366.50" x2="408.50" y2="366.50" stroke="#777" stroke-width="0.8"/>
<text x="404.30" y="369.10" font-size="5" text-anchor="end" font-weight="bold" fill="#111">0</text>
<line x1="406.00" y1="352.80" x2="408.50" y2="352.80" stroke="#777" stroke-width="0.8"/>
<text x="404.30" y="355.40" font-size="5" text-anchor="end" font-weight="bold" fill="#111">5</text>
<line x1="406.00" y1="339.10" x2="408.50" y2="339.10" stroke="#777" stroke-width="0.8"/>
<text x="404.30" y="341.70" font-size="5" text-anchor="end" font-weight="bold" fill="#111">10</text>
<line x1="406.00" y1="325.40" x2="408.50" y2="325.40" stroke="#777" stroke-width="0.8"/>
<text x="404.30" y="328.00" font-size="5" text-anchor="end" font-weight="bold" fill="#111">15</text>
<line x1="406.00" y1="311.70" x2="408.50" y2="311.70" stroke="#777" stroke-width="0.8"/>
<text x="404.30" y="314.30" font-size="5" text-anchor="end" font-weight="bold" fill="#111">20</text>
<line x1="406.00" y1="298.00" x2="408.50" y2="298.00" stroke="#777" stroke-width="0.8"/>
<text x="404.30" y="300.60" font-size="5" text-anchor="end" font-weight="bold" fill="#111">25</text>
<line x1="406.00" y1="284.30" x2="408.50" y2="284.30" stroke="#777" stroke-width="0.8"/>
<text x="404.30" y="286.90" font-size="5" text-anchor="end" font-weight="bold" fill="#111">30</text>
<line x1="408.50" y1="366.40" x2="517.50" y2="366.40" stroke="#8a8a8a" stroke-width="1.0"/>
<line x1="422.35" y1="366.40" x2="422.35" y2="367.70" stroke="#777" stroke-width="0.7"/>
<rect x="413.90" y="360.00" width="16.90" height="6.40" fill="#111" stroke="none" stroke-width="1"/>
<text x="422.35" y="373.60" font-size="5" text-anchor="middle" font-weight="bold" fill="#111">control</text>
<line x1="449.50" y1="366.40" x2="449.50" y2="367.70" stroke="#777" stroke-width="0.7"/>
<rect x="441.20" y="361.00" width="16.60" height="5.40" fill="#5e5e5e" stroke="#444" stroke-width="0.6"/>
<text x="449.50" y="373.60" font-size="5" text-anchor="middle" font-weight="bold" fill="#111">IM 0.5µM</text>
<line x1="476.80" y1="366.40" x2="476.80" y2="367.70" stroke="#777" stroke-width="0.7"/>
<line x1="476.80" y1="342.00" x2="476.80" y2="346.00" stroke="#aaa" stroke-width="0.8"/>
<rect x="468.50" y="346.30" width="16.60" height="20.10" fill="url(#hatch)" stroke="#444" stroke-width="0.6"/>
<text x="476.80" y="373.60" font-size="5" text-anchor="middle" font-weight="bold" fill="#111">GC7 20µM</text>
<line x1="504.05" y1="366.40" x2="504.05" y2="367.70" stroke="#777" stroke-width="0.7"/>
<line x1="504.05" y1="345.40" x2="504.05" y2="348.20" stroke="#aaa" stroke-width="0.8"/>
<rect x="495.90" y="348.60" width="16.30" height="17.80" fill="#fff" stroke="#777" stroke-width="0.8"/>
<text x="504.05" y="373.60" font-size="5" text-anchor="middle" font-weight="bold" fill="#111">GC7 20µM</text>
<text x="504.05" y="378.80" font-size="5" text-anchor="middle" font-weight="bold" fill="#111">IM 0.5µM</text>
</svg>
</body></html>
